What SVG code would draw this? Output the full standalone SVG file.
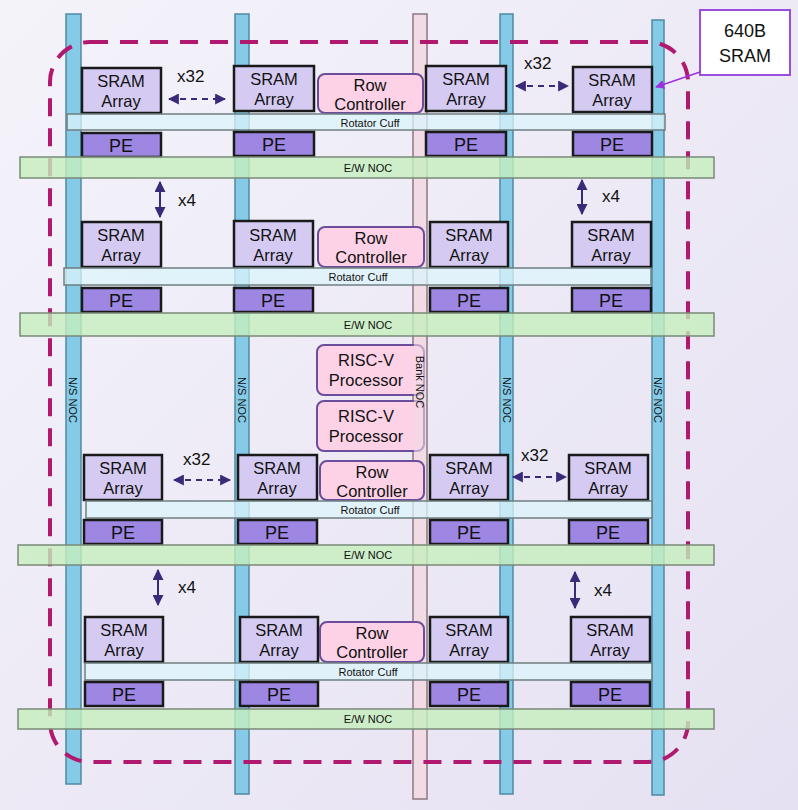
<svg xmlns="http://www.w3.org/2000/svg" width="798" height="810" viewBox="0 0 798 810">
<defs>
<linearGradient id="bg" x1="0" y1="0" x2="1" y2="1"><stop offset="0" stop-color="#f4f3fa"/><stop offset="1" stop-color="#e6e1f2"/></linearGradient>
<marker id="ah" viewBox="0 0 10 10" refX="9" refY="5" markerWidth="5.5" markerHeight="5.5" orient="auto-start-reverse"><path d="M0,0L10,5L0,10z" fill="#3b2a7a"/></marker>
<marker id="ap" viewBox="0 0 10 10" refX="9" refY="5" markerWidth="6" markerHeight="6" orient="auto"><path d="M0,0L10,5L0,10z" fill="#9b30e0"/></marker>
</defs>
<style>
text{font-family:"Liberation Sans",Arial,sans-serif;fill:#111}
.ns{fill:#85cbe8;stroke:#4f8aa3;stroke-width:1.5}
.bank{fill:#f2dbe4;stroke:#8a7a80;stroke-width:1.5}
.sram{fill:#d5cbf2;stroke:#1a1a1a;stroke-width:2.5}
.pe{fill:#9d87e2;stroke:#1a1a1a;stroke-width:2.5}
.rc{fill:#fdd2e6;stroke:#6b4d9c;stroke-width:2}
.cuff{fill:#dcf4fb;fill-opacity:0.75;stroke:#6f7f80;stroke-width:1.5}
.ew{fill:#c6efbd;fill-opacity:0.8;stroke:#7a8a78;stroke-width:1.5}
.big{font-size:16.5px;text-anchor:middle}
.pet{font-size:18px;text-anchor:middle}
.sm{font-size:11px;text-anchor:middle}
.lab{font-size:17px}
.arr{stroke:#3b2a7a;stroke-width:2;fill:none;marker-start:url(#ah);marker-end:url(#ah)}
.da{stroke-dasharray:6 5}
</style>
<rect width="798" height="810" fill="url(#bg)"/>
<g id="ns-nocs">
<rect class="ns" x="66" y="14" width="15" height="770"/>
<rect class="ns" x="235" y="14" width="14" height="780"/>
<rect class="bank" x="413" y="14" width="14" height="785"/>
<rect class="ns" x="500" y="14" width="13" height="780"/>
<rect class="ns" x="652" y="20" width="12" height="775"/>
<text class="sm" transform="translate(69,400) rotate(90)">N/S NOC</text>
<text class="sm" transform="translate(238,400) rotate(90)">N/S NOC</text>
<text class="sm" transform="translate(503,400) rotate(90)">N/S NOC</text>
<text class="sm" transform="translate(654,400) rotate(90)">N/S NOC</text>
</g>
<rect x="50" y="42" width="638" height="720" rx="40" fill="none" stroke="#b0196e" stroke-width="4" stroke-dasharray="18 12"/>
<g id="row1">
<rect class="sram" x="82" y="68" width="79" height="45"/><text class="big" x="121" y="87">SRAM</text><text class="big" x="121" y="107">Array</text>
<rect class="sram" x="234" y="66" width="80" height="45"/><text class="big" x="274" y="85">SRAM</text><text class="big" x="274" y="105">Array</text>
<rect class="rc" x="318" y="74" width="105" height="39" rx="7"/><text class="big" x="370" y="91">Row</text><text class="big" x="370" y="110">Controller</text>
<rect class="sram" x="426" y="66" width="80" height="45"/><text class="big" x="466" y="85">SRAM</text><text class="big" x="466" y="105">Array</text>
<rect class="sram" x="573" y="67" width="79" height="45"/><text class="big" x="612" y="86">SRAM</text><text class="big" x="612" y="106">Array</text>
<rect class="cuff" x="67" y="114" width="598" height="16"/><text class="sm" x="370" y="127">Rotator Cuff</text>
<rect class="pe" x="82" y="133" width="79" height="24"/><text class="pet" x="121" y="152">PE</text>
<rect class="pe" x="234" y="132" width="80" height="24"/><text class="pet" x="274" y="151">PE</text>
<rect class="pe" x="426" y="132" width="80" height="24"/><text class="pet" x="466" y="151">PE</text>
<rect class="pe" x="573" y="132" width="79" height="24"/><text class="pet" x="612" y="151">PE</text>
<rect class="ew" x="20" y="157" width="694" height="21"/><text class="sm" x="368" y="172">E/W NOC</text>
</g>
<g id="row2">
<rect class="sram" x="82" y="222" width="79" height="45"/><text class="big" x="121" y="241">SRAM</text><text class="big" x="121" y="261">Array</text>
<rect class="sram" x="234" y="221" width="79" height="46"/><text class="big" x="273" y="241">SRAM</text><text class="big" x="273" y="261">Array</text>
<rect class="rc" x="318" y="227" width="106" height="40" rx="7"/><text class="big" x="371" y="244">Row</text><text class="big" x="371" y="263">Controller</text>
<rect class="sram" x="430" y="222" width="78" height="45"/><text class="big" x="469" y="241">SRAM</text><text class="big" x="469" y="261">Array</text>
<rect class="sram" x="572" y="222" width="79" height="45"/><text class="big" x="611" y="241">SRAM</text><text class="big" x="611" y="261">Array</text>
<rect class="cuff" x="64" y="268" width="587" height="17"/><text class="sm" x="358" y="281">Rotator Cuff</text>
<rect class="pe" x="82" y="288" width="79" height="24"/><text class="pet" x="121" y="307">PE</text>
<rect class="pe" x="234" y="288" width="79" height="24"/><text class="pet" x="273" y="307">PE</text>
<rect class="pe" x="430" y="288" width="78" height="24"/><text class="pet" x="469" y="307">PE</text>
<rect class="pe" x="572" y="288" width="79" height="24"/><text class="pet" x="611" y="307">PE</text>
<rect class="ew" x="20" y="313" width="694" height="23"/><text class="sm" x="368" y="329">E/W NOC</text>
</g>
<g id="riscv">
<rect class="rc" x="317" y="345" width="107" height="50" rx="7"/><text class="big" x="366" y="366">RISC-V</text><text class="big" x="366" y="386">Processor</text>
<rect class="rc" x="317" y="401" width="107" height="50" rx="7"/><text class="big" x="366" y="422">RISC-V</text><text class="big" x="366" y="442">Processor</text>
</g>
<g id="bank-label">
<rect x="414" y="340" width="12" height="115" fill="#f2dbe4" fill-opacity="0.6"/>
<text class="sm" transform="translate(416,382) rotate(90)">Bank NOC</text>
</g>
<g id="row3">
<rect class="sram" x="84" y="455" width="78" height="45"/><text class="big" x="123" y="474">SRAM</text><text class="big" x="123" y="494">Array</text>
<rect class="sram" x="238" y="455" width="79" height="45"/><text class="big" x="277" y="474">SRAM</text><text class="big" x="277" y="494">Array</text>
<rect class="rc" x="320" y="461" width="104" height="39" rx="7"/><text class="big" x="372" y="478">Row</text><text class="big" x="372" y="497">Controller</text>
<rect class="sram" x="430" y="455" width="78" height="45"/><text class="big" x="469" y="474">SRAM</text><text class="big" x="469" y="494">Array</text>
<rect class="sram" x="569" y="455" width="79" height="45"/><text class="big" x="608" y="474">SRAM</text><text class="big" x="608" y="494">Array</text>
<rect class="cuff" x="86" y="501" width="566" height="17"/><text class="sm" x="370" y="514">Rotator Cuff</text>
<rect class="pe" x="84" y="520" width="78" height="24"/><text class="pet" x="123" y="539">PE</text>
<rect class="pe" x="238" y="520" width="79" height="24"/><text class="pet" x="277" y="539">PE</text>
<rect class="pe" x="430" y="520" width="78" height="24"/><text class="pet" x="469" y="539">PE</text>
<rect class="pe" x="569" y="520" width="79" height="24"/><text class="pet" x="608" y="539">PE</text>
<rect class="ew" x="18" y="545" width="696" height="20"/><text class="sm" x="368" y="559">E/W NOC</text>
</g>
<g id="row4">
<rect class="sram" x="85" y="617" width="78" height="45"/><text class="big" x="124" y="636">SRAM</text><text class="big" x="124" y="656">Array</text>
<rect class="sram" x="240" y="617" width="78" height="45"/><text class="big" x="279" y="636">SRAM</text><text class="big" x="279" y="656">Array</text>
<rect class="rc" x="320" y="622" width="104" height="40" rx="7"/><text class="big" x="372" y="639">Row</text><text class="big" x="372" y="658">Controller</text>
<rect class="sram" x="430" y="617" width="78" height="45"/><text class="big" x="469" y="636">SRAM</text><text class="big" x="469" y="656">Array</text>
<rect class="sram" x="571" y="617" width="79" height="45"/><text class="big" x="610" y="636">SRAM</text><text class="big" x="610" y="656">Array</text>
<rect class="cuff" x="85" y="663" width="567" height="17"/><text class="sm" x="368" y="676">Rotator Cuff</text>
<rect class="pe" x="85" y="682" width="78" height="24"/><text class="pet" x="124" y="701">PE</text>
<rect class="pe" x="240" y="682" width="78" height="24"/><text class="pet" x="279" y="701">PE</text>
<rect class="pe" x="430" y="682" width="78" height="24"/><text class="pet" x="469" y="701">PE</text>
<rect class="pe" x="571" y="682" width="79" height="24"/><text class="pet" x="610" y="701">PE</text>
<rect class="ew" x="18" y="709" width="696" height="20"/><text class="sm" x="368" y="723">E/W NOC</text>
</g>
<g id="callout">
<rect x="700" y="10" width="90" height="65" fill="#fff" stroke="#9b4de0" stroke-width="2"/>
<text x="745" y="37" font-size="18" text-anchor="middle">640B</text>
<text x="745" y="62" font-size="18" text-anchor="middle">SRAM</text>
</g>
<g id="connectors">
<line class="arr da" x1="169" y1="99" x2="225" y2="99"/>
<line class="arr da" x1="516" y1="86" x2="568" y2="86"/>
<line class="arr" x1="160" y1="182" x2="160" y2="217"/>
<line class="arr" x1="582" y1="180" x2="582" y2="214"/>
<line class="arr da" x1="174" y1="480" x2="230" y2="480"/>
<line class="arr da" x1="513" y1="477" x2="566" y2="477"/>
<line class="arr" x1="158" y1="570" x2="158" y2="605"/>
<line class="arr" x1="575" y1="572" x2="575" y2="608"/>
<line x1="700" y1="72" x2="656" y2="87" stroke="#9b30e0" stroke-width="1.5" marker-end="url(#ap)"/>
<text class="lab" x="177" y="82">x32</text>
<text class="lab" x="524" y="69">x32</text>
<text class="lab" x="178" y="206">x4</text>
<text class="lab" x="602" y="202">x4</text>
<text class="lab" x="183" y="465">x32</text>
<text class="lab" x="521" y="461">x32</text>
<text class="lab" x="178" y="593">x4</text>
<text class="lab" x="594" y="596">x4</text>
</g>
</svg>
